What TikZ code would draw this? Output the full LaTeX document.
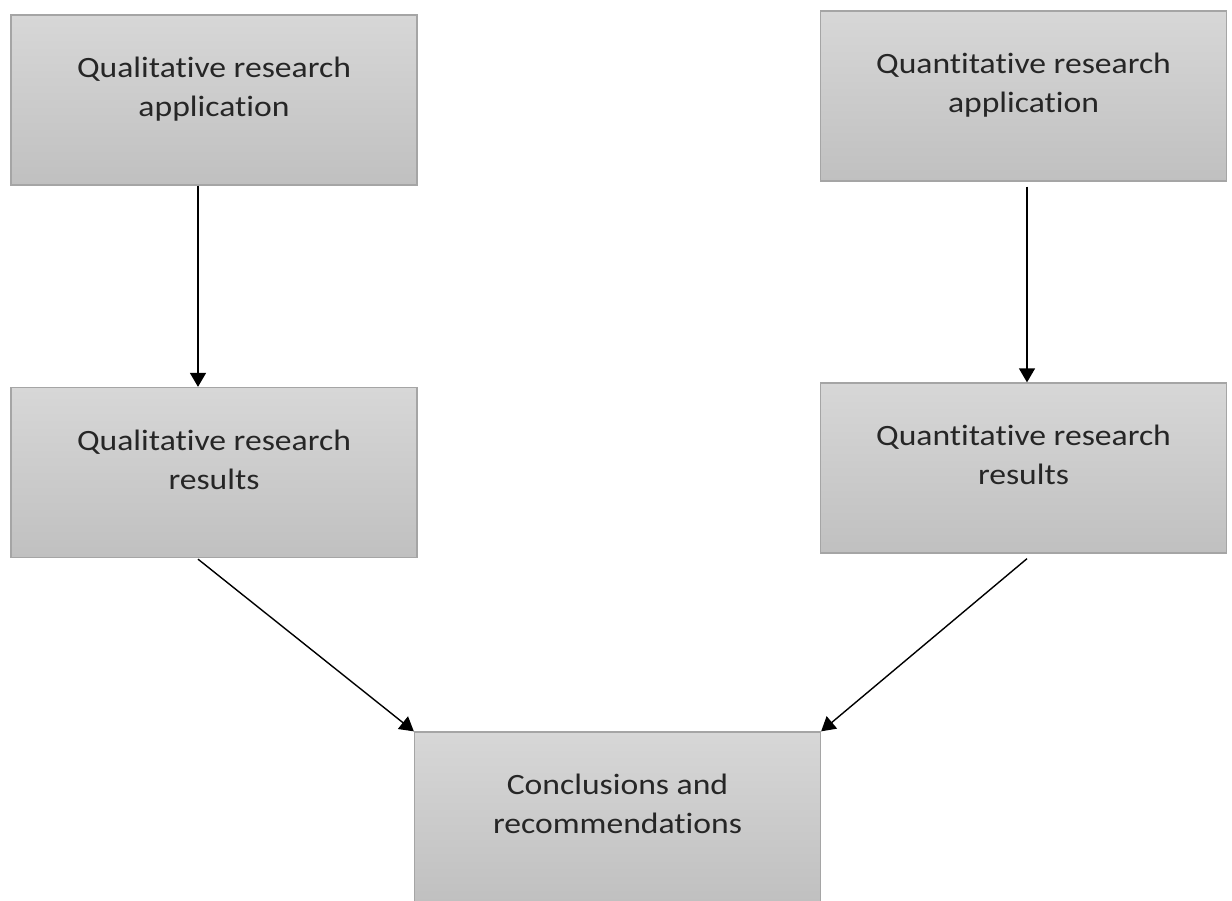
\documentclass[tikz,border=0pt]{standalone}
\usepackage{fontspec}
\setmainfont{Carlito}[FakeStretch=1.14,Ligatures=NoCommon]
\usetikzlibrary{arrows.meta,calc}
\definecolor{gtop}{RGB}{215,215,215}
\definecolor{gbot}{RGB}{192,192,192}
\definecolor{gborder}{RGB}{165,165,165}
\definecolor{txtcol}{RGB}{38,38,38}
\tikzset{
  boxnode/.style={rectangle, draw=gborder, line width=1.3pt, top color=gtop, bottom color=gbot,
    minimum width=406pt, minimum height=170pt, inner sep=0pt},
  boxtext/.style={align=center, inner sep=0pt, text=txtcol,
    font=\fontsize{29.5pt}{39pt}\selectfont},
  arr/.style={line width=1.4pt, -{Triangle[length=14pt,width=16pt]}}
}
\newcommand{\twolines}[2]{\rule{0pt}{22pt}#1\\#2\rule[-8pt]{0pt}{8pt}}
\newcommand{\tI}{t\kern0pt i}
\begin{document}
\begin{tikzpicture}[x=1pt,y=-1pt]
\useasboundingbox (0,0) rectangle (1232,900);
% boxes
\node[boxnode] (b1) at (214,100) {};
\node[boxnode] (b2) at (1023.5,96) {};
\node[boxnode] (b3) at (214,472.5) {};
\node[boxnode] (b4) at (1023.5,468) {};
\node[boxnode] (b5) at (617.5,817) {};
% texts
\node[boxtext] (t1) at ($(b1.center)+(0,-10)$) {\twolines{Qualita\tI ve research}{applica\tI on}};
\node[boxtext] (t2) at ($(b2.center)+(0,-10)$) {\twolines{Quan\tI ta\tI ve research}{applica\tI on}};
\node[boxtext] (t3) at ($(b3.center)+(0,-10)$) {\twolines{Qualita\tI ve research}{results}};
\node[boxtext] (t4) at ($(b4.center)+(0,-10)$) {\twolines{Quan\tI ta\tI ve research}{results}};
\node[boxtext] (t5) at ($(b5.center)+(0,-10)$) {\twolines{Conclusions and}{recommenda\tI ons}};
% connectors
\draw[arr] ([xshift=-16pt]b1.south) -- ([xshift=-16pt]b3.north);
\draw[arr] ([xshift=3.5pt,yshift=-5pt]b2.south) -- ([xshift=3.5pt]b4.north);
\draw[arr] ([xshift=-16pt,yshift=-1pt]b3.south) -- (b5.north west);
\draw[arr] ([xshift=3.5pt,yshift=-5pt]b4.south) -- (b5.north east);
\end{tikzpicture}
\end{document}
